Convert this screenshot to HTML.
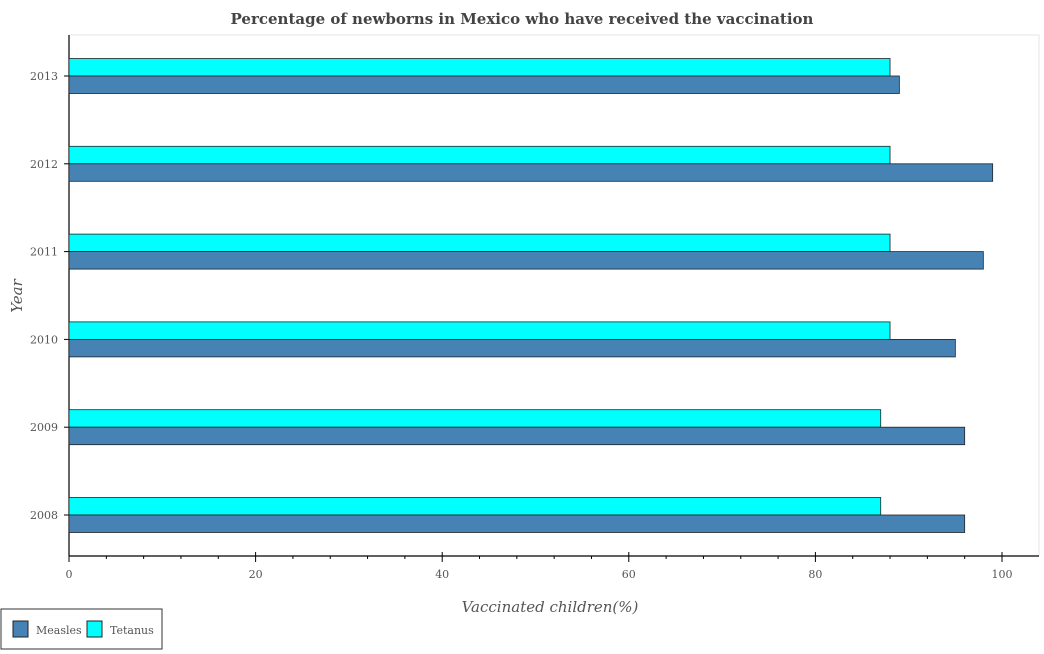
<!DOCTYPE html>
<html><head><meta charset="utf-8"><style>
body{margin:0;background:#fff;font-family:"DejaVu Serif",serif;}
</style></head><body>
<svg width="1044" height="650" xmlns="http://www.w3.org/2000/svg" font-family="DejaVu Serif, serif">
<text x="522" y="24" text-anchor="middle" font-size="15" font-weight="bold" fill="#444">Percentage of newborns in Mexico who have received the vaccination</text>
<rect x="69" y="35" width="970" height="521" fill="#fff" stroke="#e6e6e6"/>
<line x1="69" y1="35" x2="69" y2="556" stroke="#000" stroke-width="1.2"/>
<line x1="69" y1="556" x2="1039" y2="556" stroke="#000" stroke-width="1.2"/>
<g id="ticks"></g>
<g id="bars"></g>
<text x="550" y="612" text-anchor="middle" font-size="15" font-style="italic" fill="#555">Vaccinated children(%)</text>
<text x="0" y="0" text-anchor="middle" font-size="15" font-style="italic" fill="#555" transform="translate(22,296) rotate(-90)">Year</text>
<g>
<rect x="1" y="609" width="161" height="40" fill="#fff" stroke="#333"/>
<rect x="13" y="621" width="15" height="16" fill="#4682b4" stroke="#222"/>
<text x="36" y="634" font-size="11" fill="#555">Measles</text>
<rect x="87" y="621" width="15" height="16" fill="#00ffff" stroke="#222"/>
<text x="110" y="634" font-size="11" fill="#555">Tetanus</text>
</g>
</svg>
<script>
const years=["2008","2009","2010","2011","2012","2013"];
const measles=[96,96,95,98,99,89];
const tetanus=[87,87,88,88,88,88];
const xTicks=[0,20,40,60,80,100];
const NS="http://www.w3.org/2000/svg";
const x=v=>69+v*9.33;
const yc=i=>515-i*87.8;
const tg=document.getElementById('ticks'),bg=document.getElementById('bars');
for(let v=4;v<=100;v+=4){
 if(v%20===0)continue;
 const l=document.createElementNS(NS,'line');
 
 
 l.setAttribute('x1',x(v));l.setAttribute('x2',x(v));l.setAttribute('y1',556);l.setAttribute('y2',559);l.setAttribute('stroke','#000');
 tg.appendChild(l);
}
xTicks.forEach(t=>{
 const l=document.createElementNS(NS,'line');
 
 
 l.setAttribute('x1',x(t));l.setAttribute('x2',x(t));l.setAttribute('y1',552);l.setAttribute('y2',562);l.setAttribute('stroke','#000');
 tg.appendChild(l);
 const s=document.createElementNS(NS,'text');
 
 
 s.setAttribute('x',x(t));s.setAttribute('y',578);s.setAttribute('text-anchor','middle');s.setAttribute('font-size','11');s.setAttribute('fill','#555');
 s.textContent=t;tg.appendChild(s);
});
years.forEach((yr,i)=>{
 const c=yc(i);
 const tk=document.createElementNS(NS,'line');
 
 
 tk.setAttribute('x1',64);tk.setAttribute('x2',69);tk.setAttribute('y1',c);tk.setAttribute('y2',c);tk.setAttribute('stroke','#000');
 tg.appendChild(tk);
 const s=document.createElementNS(NS,'text');
 
 
 s.setAttribute('x',58);s.setAttribute('y',c+4);s.setAttribute('text-anchor','end');s.setAttribute('font-size','11');s.setAttribute('fill','#555');
 s.textContent=yr;tg.appendChild(s);
 const t=document.createElementNS(NS,'rect');
 
 
 t.setAttribute('x',x(0));t.setAttribute('y',c-17.5);t.setAttribute('width',x(tetanus[i])-x(0));t.setAttribute('height',17.5);
 t.setAttribute('fill','#00ffff');t.setAttribute('stroke','#222');t.setAttribute('stroke-width','0.8');
 bg.appendChild(t);
 const m=document.createElementNS(NS,'rect');
 
 
 m.setAttribute('x',x(0));m.setAttribute('y',c);m.setAttribute('width',x(measles[i])-x(0));m.setAttribute('height',17.5);
 m.setAttribute('fill','#4682b4');m.setAttribute('stroke','#222');m.setAttribute('stroke-width','0.8');
 bg.appendChild(m);
});
</script>
</body></html>
